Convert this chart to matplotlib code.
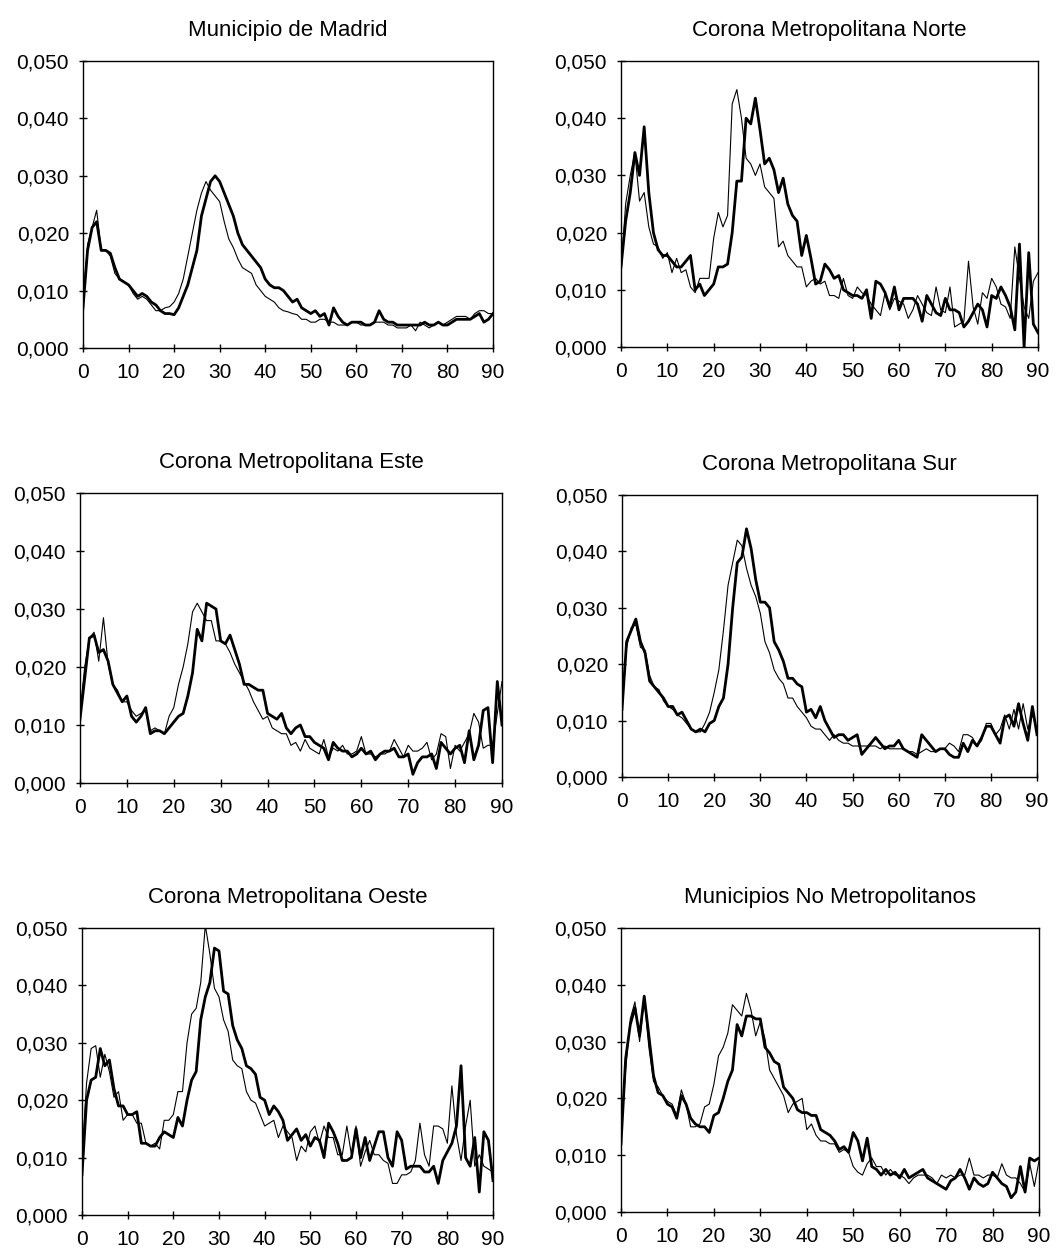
import numpy as np
import matplotlib
matplotlib.use("Agg")
import matplotlib.pyplot as plt
from matplotlib.ticker import FuncFormatter

plt.rcParams['font.family'] = ['Liberation Sans', 'DejaVu Sans']

# data: ages 0..90, two series per zone (thin / thick)
ages = np.arange(0, 91)

titles = ['Municipio de Madrid', 'Corona Metropolitana Norte',
          'Corona Metropolitana Este', 'Corona Metropolitana Sur',
          'Corona Metropolitana Oeste', 'Municipios No Metropolitanos']

madrid_thin = [8.0, 18, 21, 24, 17, 17, 16, 13, 12, 11.5, 11, 9.5, 8.5, 9, 8.5, 7.5, 6.5, 6.5, 7, 7.2,
               8, 9.5, 12, 16, 20, 24, 27, 29, 27.5, 26.5, 25.5, 22, 19, 17.5, 15.5, 14, 13.5, 13, 11, 10,
               9, 8.5, 8, 7, 6.5, 6.3, 6, 5.8, 5, 5, 4.5, 4.5, 5, 5, 4.5, 4.5, 4, 4, 4, 4.5,
               4.5, 4, 4, 4, 4.5, 4.5, 4.5, 4, 4, 3.5, 3.5, 3.5, 4, 3, 4.5, 4, 3.5, 4, 4.5, 4,
               4.5, 5, 5.5, 5.5, 5.5, 5, 6, 6.5, 6.5, 6, 6]
madrid_thick = [7.0, 17, 21, 22, 17, 17, 16.5, 14, 12, 11.5, 11, 10, 9, 9.5, 9, 8, 7.5, 6.5, 6, 6,
                5.8, 7, 9, 11, 14, 17, 23, 26, 29, 30, 29, 27, 25, 23, 20, 18, 17, 16, 15, 14,
                12, 11, 10.5, 10.5, 10, 9, 8, 8.5, 7, 6.5, 6, 6.5, 5.5, 6, 4, 7, 5.5, 4.5, 4, 4.5,
                4.5, 4.5, 4, 4, 4.5, 6.5, 5, 4.5, 4.5, 4, 4, 4, 4, 4, 4, 4.5, 4, 4, 4.5, 4,
                4, 4.5, 5, 5, 5, 5, 5.5, 6, 4.5, 5, 6]

norte_thin = [13.0, 25, 30, 34, 25.5, 27, 21, 18, 17.5, 15.5, 16.5, 13, 15.5, 13, 13.5, 10.5, 9.5, 12, 12, 12,
              19, 23.5, 21, 23, 42.5, 45, 40, 33, 32, 30, 32, 28, 27, 26, 17.5, 18.5, 16, 15, 14, 14,
              10.5, 11.5, 12, 11, 11.5, 9, 9, 8.5, 12, 9, 8.5, 10.5, 9.5, 9, 7.5, 6.5, 5.5, 9.5, 6.5, 8.5,
              8, 7.5, 5, 6.5, 9, 7.5, 6, 5.5, 10.5, 6.5, 6, 10.5, 3.5, 4, 4.5, 15, 7, 4, 9.5, 8.5,
              12, 10.5, 7.5, 7, 5, 17.5, 12, 7, 5, 11.5, 13]
norte_thick = [14.0, 22, 27, 34, 30, 38.5, 27, 20, 17, 16, 16, 15, 14, 14, 15, 16, 10, 11, 9, 10,
               11, 14, 14, 14.5, 20, 29, 29, 40, 39, 43.5, 38, 32, 33, 31, 27, 29.5, 25, 23, 22, 16,
               19.5, 15.5, 11, 11.5, 14.5, 13.5, 12, 12.5, 10, 9.5, 9, 9, 8.5, 10, 5, 11.5, 11, 9.5, 7, 10.5,
               6.5, 8.5, 8.5, 8.5, 7.5, 4.5, 9, 7.5, 6, 5.5, 8.5, 6.5, 6.5, 6, 3.5, 4.5, 6, 7.5, 6.5, 3.5,
               9, 8.5, 10.5, 9, 7, 3, 18, 0, 16.5, 4, 2.5]

este_thin = [12.0, 20, 25, 26, 21, 28.5, 20.5, 17, 16, 14, 14, 12.5, 11.5, 12, 12.5, 9, 9.5, 9, 8.5, 11.5,
             13, 17, 20, 24, 29.5, 31, 29.5, 28, 28, 24.5, 24.5, 24, 22.5, 20.5, 19, 17.5, 16, 14, 12.5, 11,
             11.5, 9.5, 9, 8.5, 8.5, 6.5, 7, 5.5, 7.5, 6, 5.5, 5, 7.5, 4.5, 6, 5.5, 6.5, 5, 5, 5.5,
             8, 5, 5, 4.5, 5, 5, 5.5, 7.5, 6, 4.5, 6.5, 5.5, 5.5, 6, 7, 4, 5, 8.5, 8, 2.5,
             6.5, 5.5, 7, 8.5, 12, 10.5, 6, 6.5, 6.5, 12, 17.5]
este_thick = [11.0, 18, 25, 25.5, 22.5, 23, 21, 17, 15.5, 14, 15, 11.5, 10.5, 11.5, 13, 8.5, 9, 9, 8.5, 9.5,
              10.5, 11.5, 12, 15, 19, 26.5, 24.5, 31, 30.5, 30, 24.5, 24, 25.5, 23, 20.5, 17, 17, 16.5, 16, 16,
              12, 11.5, 11, 12, 9.5, 8.5, 9.5, 10, 8, 8, 7, 6.5, 6, 4, 7, 6, 5.5, 5.5, 4.5, 5,
              6, 5, 5.5, 4, 5, 5.5, 5.5, 6, 4.5, 4.5, 5, 1.5, 3.5, 4.5, 4.5, 5, 2.5, 7, 6, 5,
              6, 6.5, 3.5, 9, 4, 6.5, 12.5, 13, 3.5, 17.5, 10]

sur_thin = [12.0, 23, 26.5, 27, 23, 22.5, 18, 16, 15.5, 13.5, 12.5, 12, 11, 10.5, 9.5, 8.5, 8, 8, 9.5, 11.5,
            15, 19, 26, 34, 38, 42, 41, 37, 34, 32, 29, 24, 22, 19, 17.5, 16.5, 14, 14, 12.5, 11.5,
            10.5, 9, 8.5, 8.5, 7.5, 6.5, 7.5, 6.5, 6, 6, 5.5, 5.5, 5.5, 5.5, 5.5, 5.5, 5, 5.5, 5, 5,
            5, 5, 4.5, 4.5, 4, 4.5, 5, 4.5, 4.5, 5, 5, 6, 5.5, 4.5, 7.5, 7.5, 7, 5.5, 6.5, 9.5,
            9.5, 7.5, 8.5, 11, 8.5, 12, 8.5, 13, 8.5, 11, 8.5]
sur_thick = [12.0, 24, 26, 28, 24, 22, 17, 16, 15, 14, 12.5, 12.5, 11, 11.5, 10, 8.5, 8, 8.5, 8, 9.5,
             10, 12.5, 14, 20, 30, 38, 39, 44, 40.5, 35, 31, 31, 30, 24, 22.5, 20.5, 17.5, 17.5, 16.5, 16,
             11.5, 12, 10.5, 12.5, 10, 8.5, 7, 7.5, 7.5, 6.5, 7, 7.5, 4, 5, 6, 7, 6, 5, 5.5, 5.5,
             6.5, 5, 4.5, 4, 3.5, 7.5, 6.5, 5.5, 4.5, 5, 5, 4, 3.5, 3.5, 6, 4.5, 6.5, 5.5, 7, 9,
             9, 7.5, 6, 10.5, 11, 9, 13, 9.5, 6.5, 12.5, 7.5]

oeste_thin = [10.0, 23, 29, 29.5, 24, 28, 25, 20.5, 21.5, 16.5, 17.5, 17.5, 16, 16, 12.5, 12, 12.5, 11.5, 16.5, 16.5,
              17.5, 21.5, 21.5, 30, 35, 36, 40.5, 50.5, 45.5, 39.5, 38, 34, 32, 27, 26, 25.5, 21.5, 20, 19.5, 17.5,
              15.5, 16, 16.5, 13.5, 15.5, 14.5, 13.5, 9.5, 12, 11, 14.5, 15.5, 12.5, 15.5, 13.5, 13.5, 10.5, 10.5, 15.5, 10.5,
              15.5, 8.5, 11, 13, 10.5, 10.5, 9.5, 9, 5.5, 5.5, 7, 7, 7.5, 9.5, 16, 10.5, 8.5, 15.5, 15.5, 15,
              12.5, 22.5, 14, 9.5, 15.5, 20, 8.5, 10.5, 8.5, 8, 7.5]
oeste_thick = [7.0, 20, 23.5, 24, 29, 26, 27, 22, 19, 19, 17.5, 17.5, 18, 12.5, 12.5, 12, 12, 13.5, 14.5, 14,
               13.5, 17, 15.5, 20, 23.5, 25, 34, 38, 40.5, 46.5, 46, 39, 38.5, 33, 30.5, 29, 26, 25.5, 24.5, 20.5,
               20, 17.5, 19, 18, 16.5, 13, 14, 15, 13, 14, 12, 13.5, 13, 10, 16, 14.5, 12.5, 9.5, 9.5, 10,
               15, 10, 13.5, 9.5, 12, 14.5, 14.5, 10, 8.5, 14.5, 13, 8, 8.5, 8.5, 8.5, 7.5, 7.5, 8.5, 5.5, 9.5,
               11, 12.5, 15.5, 26, 10, 8.5, 13.5, 4, 14.5, 13, 6]

nometro_thin = [13.0, 25, 34, 37, 30, 37.5, 29, 23, 22, 20.5, 19.5, 19, 17, 21.5, 19, 15, 15, 15.5, 18.5, 19,
                22.5, 27.5, 29, 31.5, 36.5, 35.5, 34.5, 38.5, 35.5, 31, 33.5, 30.5, 25, 23.5, 22, 20.5, 17.5, 19, 19.5, 20,
                14.5, 15.5, 13.5, 12.5, 12.5, 12, 12, 10.5, 11, 10.5, 8, 7, 6.5, 8.5, 9.5, 8, 8, 6.5, 7.5, 6.5,
                6.5, 6, 5, 6, 6.5, 6.5, 6.5, 6, 5, 6.5, 6, 6.5, 6, 6.5, 6.5, 9.5, 6.5, 6.5, 6, 6.5,
                6.5, 6, 8.5, 6.5, 6, 6, 5, 3.5, 8.5, 4.5, 9]
nometro_thick = [12.0, 27, 33, 36, 31, 38, 31, 24, 21, 20.5, 19, 18.5, 16.5, 20.5, 19, 16.5, 15.5, 15, 15, 14,
                 17, 17.5, 20, 23, 25, 33, 31, 34.5, 34.5, 34, 34, 29, 28, 26.5, 26, 22, 21, 20, 18, 17.5,
                 17.5, 17, 17, 14.5, 14, 13.5, 12.5, 11, 11.5, 10.5, 14, 12.5, 9, 13, 8, 7.5, 6.5, 7.5, 6.5, 7,
                 6, 7.5, 6, 6.5, 7, 7.5, 6, 5.5, 5, 4.5, 4, 5.5, 6, 7.5, 6, 4, 6, 5, 4.5, 5,
                 7, 6, 5, 4.5, 2.5, 3.5, 8, 3.5, 9.5, 9, 9.5]

thin_series = [madrid_thin, norte_thin, este_thin, sur_thin, oeste_thin, nometro_thin]
thick_series = [madrid_thick, norte_thick, este_thick, sur_thick, oeste_thick, nometro_thick]

y_ticks = [0.0, 0.01, 0.02, 0.03, 0.04, 0.05]
x_ticks = [0, 10, 20, 30, 40, 50, 60, 70, 80, 90]

# axes boxes in pixels (left, top, right, bottom) on a 1062x1249 canvas
W, H = 1062, 1249
boxes = [(83, 61, 493, 348), (621, 61, 1038, 347),
         (80, 493, 502, 783), (622, 495, 1037, 777),
         (82, 928, 493, 1215), (621, 928, 1039, 1212)]

fig = plt.figure(figsize=(W / 100, H / 100), dpi=100)
fmt = FuncFormatter(lambda v, p: f"{v:.3f}".replace('.', ','))

for i in range(6):
    l, t, r, b = boxes[i]
    ax = fig.add_axes([l / W, (H - b) / H, (r - l) / W, (b - t) / H])
    ax.plot(ages, np.array(thin_series[i]) / 1000, color='black', lw=0.8)
    ax.plot(ages, np.array(thick_series[i]) / 1000, color='black', lw=2.0)
    ax.set_xlim(0, 90)
    ax.set_ylim(0, 0.05)
    ax.set_xticks(x_ticks)
    ax.set_yticks(y_ticks)
    ax.yaxis.set_major_formatter(fmt)
    ax.tick_params(direction='inout', length=6, width=1, pad=7, labelsize=15, colors='black')
    ax.tick_params(axis='x', pad=8)
    for s in ax.spines.values():
        s.set_linewidth(1.0)
    ax.set_title(titles[i], fontsize=16, pad=18)

fig.savefig('out.png', dpi=100, facecolor='white')
